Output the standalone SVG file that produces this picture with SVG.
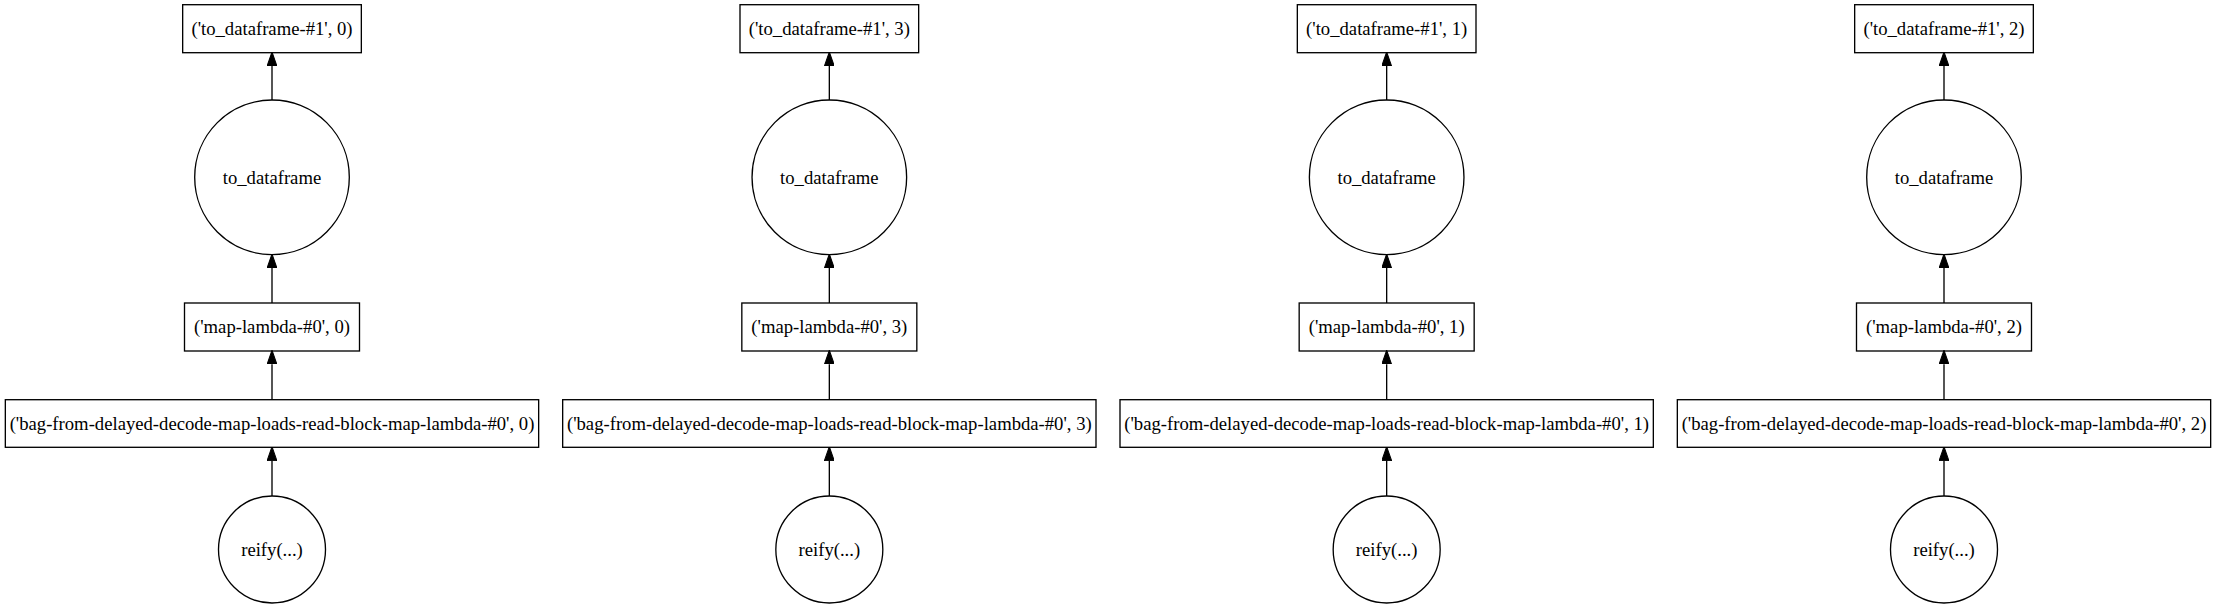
<svg xmlns="http://www.w3.org/2000/svg" width="2216" height="608" viewBox="0 0 2216 608">
<style>
.n{fill:none;stroke:#000;stroke-width:1.33}
.t{font-family:"Liberation Serif","Times New Roman",serif;font-size:18.67px;fill:#000;text-anchor:middle}
.e{stroke:#000;stroke-width:1.33;fill:none;marker-end:url(#ah)}
</style>
<defs>
<marker id="ah" markerUnits="userSpaceOnUse" markerWidth="14" markerHeight="10" viewBox="0 0 13.33 9.33" refX="0" refY="4.67" orient="auto">
<path d="M0,0 L13.33,4.67 L0,9.33 z" fill="#000" stroke="#000" stroke-width="1"/>
</marker>
</defs>
<rect width="2216" height="608" fill="#fff"/>
<g id="connectors">
<line class="e" x1="272" y1="100" x2="272" y2="66"/>
<line class="e" x1="272" y1="303" x2="272" y2="268"/>
<line class="e" x1="272" y1="399.7" x2="272" y2="364.3"/>
<line class="e" x1="272" y1="496" x2="272" y2="460.7"/>
<line class="e" x1="829.33" y1="100" x2="829.33" y2="66"/>
<line class="e" x1="829.33" y1="303" x2="829.33" y2="268"/>
<line class="e" x1="829.33" y1="399.7" x2="829.33" y2="364.3"/>
<line class="e" x1="829.33" y1="496" x2="829.33" y2="460.7"/>
<line class="e" x1="1386.67" y1="100" x2="1386.67" y2="66"/>
<line class="e" x1="1386.67" y1="303" x2="1386.67" y2="268"/>
<line class="e" x1="1386.67" y1="399.7" x2="1386.67" y2="364.3"/>
<line class="e" x1="1386.67" y1="496" x2="1386.67" y2="460.7"/>
<line class="e" x1="1944" y1="100" x2="1944" y2="66"/>
<line class="e" x1="1944" y1="303" x2="1944" y2="268"/>
<line class="e" x1="1944" y1="399.7" x2="1944" y2="364.3"/>
<line class="e" x1="1944" y1="496" x2="1944" y2="460.7"/>
</g>
<!-- column 0 -->
<g id="todf1_0"><rect class="n" x="182.67" y="4.7" width="178.67" height="48"/><text class="t" x="272" y="34.5">('to_dataframe-#1', 0)</text></g>
<g id="todf_0"><circle class="n" cx="272" cy="177.3" r="77.3"/><text class="t" x="272" y="183.5">to_dataframe</text></g>
<g id="map_0"><rect class="n" x="184.5" y="303" width="175" height="48"/><text class="t" x="272" y="332.8">('map-lambda-#0', 0)</text></g>
<g id="bag_0"><rect class="n" x="5.33" y="399.7" width="533.33" height="47.6"/><text class="t" x="272" y="429.5">('bag-from-delayed-decode-map-loads-read-block-map-lambda-#0', 0)</text></g>
<g id="reify_0"><circle class="n" cx="272" cy="549.5" r="53.5"/><text class="t" x="272" y="555.5">reify(...)</text></g>
<!-- column 3 -->
<g id="todf1_3"><rect class="n" x="740" y="4.7" width="178.67" height="48"/><text class="t" x="829.33" y="34.5">('to_dataframe-#1', 3)</text></g>
<g id="todf_3"><circle class="n" cx="829.33" cy="177.3" r="77.3"/><text class="t" x="829.33" y="183.5">to_dataframe</text></g>
<g id="map_3"><rect class="n" x="741.83" y="303" width="175" height="48"/><text class="t" x="829.33" y="332.8">('map-lambda-#0', 3)</text></g>
<g id="bag_3"><rect class="n" x="562.67" y="399.7" width="533.33" height="47.6"/><text class="t" x="829.33" y="429.5">('bag-from-delayed-decode-map-loads-read-block-map-lambda-#0', 3)</text></g>
<g id="reify_3"><circle class="n" cx="829.33" cy="549.5" r="53.5"/><text class="t" x="829.33" y="555.5">reify(...)</text></g>
<!-- column 1 -->
<g id="todf1_1"><rect class="n" x="1297.33" y="4.7" width="178.67" height="48"/><text class="t" x="1386.67" y="34.5">('to_dataframe-#1', 1)</text></g>
<g id="todf_1"><circle class="n" cx="1386.67" cy="177.3" r="77.3"/><text class="t" x="1386.67" y="183.5">to_dataframe</text></g>
<g id="map_1"><rect class="n" x="1299.17" y="303" width="175" height="48"/><text class="t" x="1386.67" y="332.8">('map-lambda-#0', 1)</text></g>
<g id="bag_1"><rect class="n" x="1120" y="399.7" width="533.33" height="47.6"/><text class="t" x="1386.67" y="429.5">('bag-from-delayed-decode-map-loads-read-block-map-lambda-#0', 1)</text></g>
<g id="reify_1"><circle class="n" cx="1386.67" cy="549.5" r="53.5"/><text class="t" x="1386.67" y="555.5">reify(...)</text></g>
<!-- column 2 -->
<g id="todf1_2"><rect class="n" x="1854.67" y="4.7" width="178.67" height="48"/><text class="t" x="1944" y="34.5">('to_dataframe-#1', 2)</text></g>
<g id="todf_2"><circle class="n" cx="1944" cy="177.3" r="77.3"/><text class="t" x="1944" y="183.5">to_dataframe</text></g>
<g id="map_2"><rect class="n" x="1856.5" y="303" width="175" height="48"/><text class="t" x="1944" y="332.8">('map-lambda-#0', 2)</text></g>
<g id="bag_2"><rect class="n" x="1677.33" y="399.7" width="533.33" height="47.6"/><text class="t" x="1944" y="429.5">('bag-from-delayed-decode-map-loads-read-block-map-lambda-#0', 2)</text></g>
<g id="reify_2"><circle class="n" cx="1944" cy="549.5" r="53.5"/><text class="t" x="1944" y="555.5">reify(...)</text></g>
</svg>
